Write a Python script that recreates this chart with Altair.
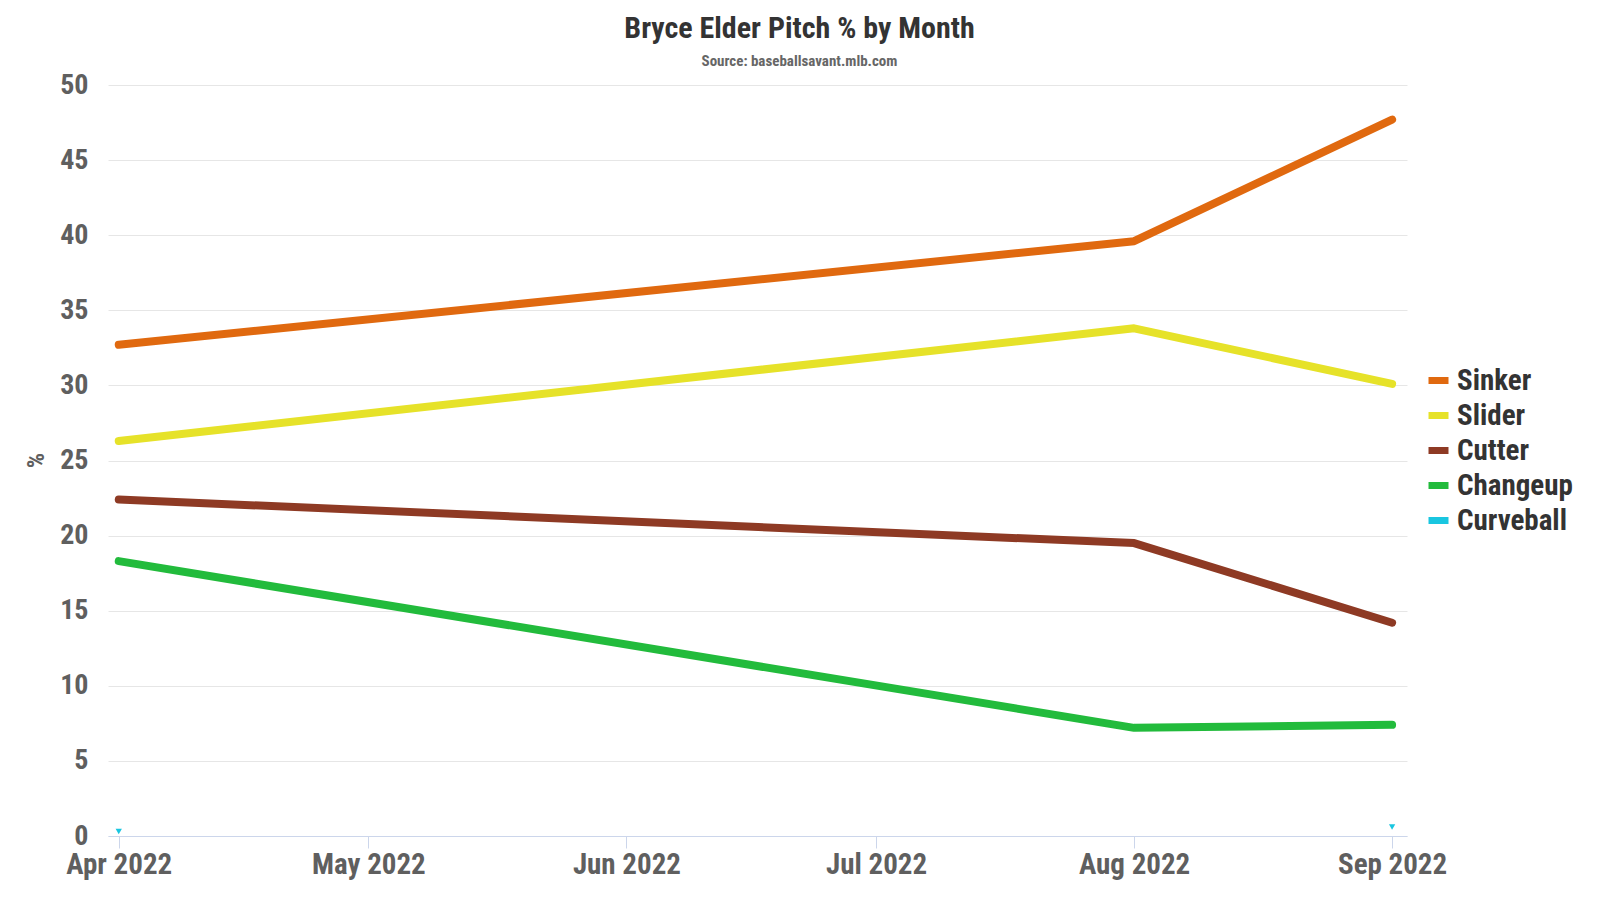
import altair as alt
import pandas as pd

months = ["2022-04-01", "2022-08-01", "2022-09-01"]
pitches = ["Sinker", "Slider", "Cutter", "Changeup", "Curveball"]
colors = ["#e0690f", "#e6e229", "#8e3a24", "#22bb3c", "#19c6e0"]
sinker = [32.7, 39.6, 47.7]
slider = [26.3, 33.8, 30.1]
cutter = [22.4, 19.5, 14.2]
changeup = [18.3, 7.2, 7.4]
cb_months = ["2022-04-01", "2022-09-01"]
curveball = [0.3, 0.6]

rows = []
for name, vals in [("Sinker", sinker), ("Slider", slider), ("Cutter", cutter), ("Changeup", changeup)]:
    for m, v in zip(months, vals):
        rows.append({"month": m, "pitch": name, "pct": v})
df = pd.DataFrame(rows)
df_cb = pd.DataFrame({"month": cb_months, "pitch": "Curveball", "pct": curveball})

FONT = "Roboto Condensed, Liberation Sans Narrow, Roboto, sans-serif"

xscale = alt.Scale(
    type="utc",
    domain=[alt.DateTime(year=2022, month=3, date=30, hours=17, utc=True),
            alt.DateTime(year=2022, month=9, date=2, hours=19, utc=True)],
)
yscale = alt.Scale(domain=[0, 50], nice=False)
cscale = alt.Scale(domain=pitches, range=colors)

x_axis = alt.Axis(
    title=None,
    tickCount={"interval": "month", "step": 1},
    labelExpr="utcFormat(datum.value, '%b %Y')",
    labelFont=FONT, labelFontSize=29, labelFontWeight="bold", labelColor="#5f5f5f",
    labelPadding=2, tickSize=12, tickColor="#ccd6eb", domainColor="#ccd6eb",
    grid=False, labelFlush=False,
)
y_axis = alt.Axis(
    title="%", values=[0, 5, 10, 15, 20, 25, 30, 35, 40, 45, 50],
    labelFont=FONT, labelFontSize=28, labelFontWeight="bold", labelColor="#5f5f5f",
    labelPadding=20, ticks=False, domain=False, gridColor="#e6e6e6",
    titleFont=FONT, titleFontSize=24, titleFontWeight="bold", titleColor="#5f5f5f",
    titleAngle=270, titleX=-72, titleY=375, titleBaseline="middle", titleAlign="center",
)

lines = alt.Chart(df).mark_line(strokeWidth=8, strokeCap="round", strokeJoin="round").encode(
    x=alt.X("month:T", scale=xscale, axis=x_axis),
    y=alt.Y("pct:Q", scale=yscale, axis=y_axis),
    color=alt.Color(
        "pitch:N", scale=cscale, sort=pitches,
        legend=alt.Legend(
            title=None, orient="none", legendX=1316, legendY=281,
            symbolType="stroke", symbolSize=400, symbolStrokeWidth=7,
            labelFont=FONT, labelFontSize=29, labelFontWeight="bold", labelColor="#333333",
            rowPadding=5, labelOffset=4,
        ),
    ),
)

points = alt.Chart(df_cb).mark_point(shape="triangle-down", filled=True, size=40, opacity=1).encode(
    x=alt.X("month:T", scale=xscale),
    y=alt.Y("pct:Q", scale=yscale),
    color=alt.Color("pitch:N", scale=cscale, legend=None),
)

chart = (lines + points).properties(
    width=1299, height=751,
    background="white",
    autosize=alt.AutoSizeParams(type="none"),
    padding={"left": 100, "top": 77, "right": 185, "bottom": 56},
    title=alt.TitleParams(
        text="Bryce Elder Pitch % by Month",
        subtitle="Source: baseballsavant.mlb.com",
        font=FONT, fontSize=30, fontWeight="bold", color="#333333",
        subtitleFont=FONT, subtitleFontSize=15, subtitleFontWeight="bold", subtitleColor="#666666",
        subtitlePadding=10, anchor="middle", dx=42, offset=2,
    ),
).configure_view(strokeWidth=0, stroke="transparent")

chart.save("out.html", embed_options={"renderer": "svg", "actions": False})
